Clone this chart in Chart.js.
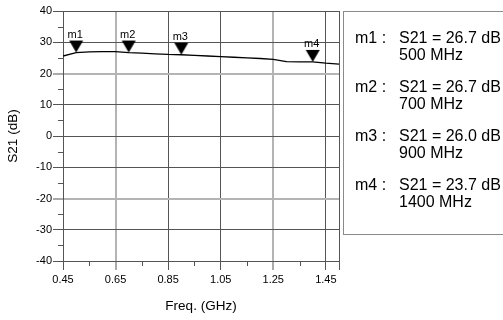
<!DOCTYPE html>
<html>
<head>
<meta charset="utf-8">
<script src="https://cdn.jsdelivr.net/npm/chart.js@4/dist/chart.umd.min.js"></script>
<style>
  html, body { margin: 0; padding: 0; background: #fff; }
  #wrap { position: relative; width: 503px; height: 320px; overflow: hidden; }
  #plot { position: absolute; left: 0; top: 0; }
  #markers {
    position: absolute; left: 343px; top: 11px; width: 200px; height: 222px;
    border: 1px solid #8a8a8a; border-right: none;
    font-family: "Liberation Sans", Arial, sans-serif; font-size: 16px; color: #000;
  }
  .entry { position: absolute; left: 11px; display: grid; grid-template-columns: 44px auto; line-height: 16.5px; white-space: nowrap; }
</style>
</head>
<body>
<div id="wrap">
  <canvas id="plot" width="503" height="320"></canvas>
  <div id="markers"></div>
</div>
<script>
// S21 sweep, GHz / dB
const freqs = [0.45, 0.50, 0.55, 0.60, 0.65, 0.70, 0.75, 0.80, 0.85, 0.90, 0.95,
               1.00, 1.05, 1.10, 1.15, 1.20, 1.25, 1.30, 1.35, 1.40, 1.45, 1.50];
const s21 = [25.6, 26.7, 26.9, 27.0, 27.0, 26.7, 26.5, 26.3, 26.1, 26.0, 25.8,
             25.6, 25.4, 25.2, 25.0, 24.8, 24.5, 23.8, 23.7, 23.7, 23.3, 23.0];

// markers
const markerNames = ['m1', 'm2', 'm3', 'm4'];
const markerFreqs = [0.5, 0.7, 0.9, 1.4];
const markerValues = [26.7, 26.7, 26.0, 23.7];

// axis ticks
const xMajor = [0.45, 0.65, 0.85, 1.05, 1.25, 1.45];
const xMinor = [0.55, 0.75, 0.95, 1.15, 1.35];
const yMajor = [-40, -30, -20, -10, 0, 10, 20, 30, 40];
const yMinor = [-35, -25, -15, -5, 5, 15, 25, 35];

const FONT = '"Liberation Sans", Arial, sans-serif';
const DARK = '#555';
const LIGHT = '#b4b4b4';
const lightX = [0.65, 1.25];
const lightY = [20, -20];

const near = (a, b) => Math.abs(a - b) < 1e-6;
const inList = (v, arr) => arr.some(a => near(a, v));

// downward triangle with its tip at the centre of the image
function triangle() {
  const c = document.createElement('canvas');
  c.width = 16; c.height = 26;
  const g = c.getContext('2d');
  g.fillStyle = '#000';
  g.beginPath();
  g.moveTo(1, 1); g.lineTo(15, 1); g.lineTo(8, 13); g.closePath();
  g.fill();
  return c;
}

const markerLabels = {
  id: 'markerLabels',
  afterDatasetsDraw(chart) {
    const ctx = chart.ctx;
    const meta = chart.getDatasetMeta(0);
    ctx.save();
    ctx.font = '11px ' + FONT;
    ctx.fillStyle = '#000';
    ctx.textAlign = 'center';
    ctx.textBaseline = 'bottom';
    meta.data.forEach((pt, i) => ctx.fillText(markerNames[i], pt.x - 1, pt.y - 12));
    ctx.restore();
  }
};

// short outside ticks between the labelled ones
const minorTicks = {
  id: 'minorTicks',
  afterDraw(chart) {
    const { ctx, chartArea, scales } = chart;
    ctx.save();
    ctx.strokeStyle = DARK;
    ctx.lineWidth = 1;
    ctx.beginPath();
    xMinor.forEach(v => {
      const x = Math.round(scales.x.getPixelForValue(v)) + 0.5;
      ctx.moveTo(x, chartArea.bottom);
      ctx.lineTo(x, chartArea.bottom + 5);
    });
    yMinor.forEach(v => {
      const y = Math.round(scales.y.getPixelForValue(v)) + 0.5;
      ctx.moveTo(chartArea.left - 5, y);
      ctx.lineTo(chartArea.left, y);
    });
    ctx.stroke();
    ctx.restore();
  }
};

function gridColor(v, lights, majors) {
  if (!inList(v, majors)) return 'rgba(0,0,0,0)';
  return inList(v, lights) ? LIGHT : DARK;
}

new Chart(document.getElementById('plot'), {
  type: 'scatter',
  data: {
    datasets: [{
      data: markerFreqs.map((f, i) => ({ x: f, y: markerValues[i] })),
      pointStyle: triangle(),
      pointRadius: 7,
      showLine: false
    }, {
      data: freqs.map((f, i) => ({ x: f, y: s21[i] })),
      showLine: true,
      borderColor: '#000',
      borderWidth: 1.3,
      pointRadius: 0,
      tension: 0
    }]
  },
  options: {
    responsive: false,
    animation: false,
    events: [],
    layout: { padding: { top: 11, right: 164, left: 0, bottom: 0 } },
    plugins: { legend: { display: false }, tooltip: { enabled: false } },
    scales: {
      x: {
        type: 'linear',
        min: 0.45,
        max: 1.5,
        afterBuildTicks: s => { s.ticks = xMajor.concat(xMinor, [1.5]).sort((a, b) => a - b).map(v => ({ value: v })); },
        afterFit: s => { s.height = 59; },
        border: { display: true, color: DARK, width: 1 },
        grid: {
          color: c => near(c.tick.value, 1.5) ? DARK : gridColor(c.tick.value, lightX, xMajor),
          lineWidth: c => inList(c.tick.value, lightX) ? 2 : 1,
          tickColor: c => (inList(c.tick.value, xMajor) || near(c.tick.value, 1.5)) ? DARK : 'rgba(0,0,0,0)',
          tickLength: 9,
          tickWidth: 1,
          drawTicks: true
        },
        ticks: {
          autoSkip: false,
          maxRotation: 0,
          padding: 3,
          color: '#000',
          font: { family: FONT, size: 11 },
          callback: v => inList(v, xMajor) ? v.toFixed(2) : ''
        },
        title: {
          display: true,
          text: 'Freq. (GHz)',
          color: '#000',
          font: { family: FONT, size: 13.5 },
          padding: { top: 0, bottom: 6 }
        }
      },
      y: {
        min: -40,
        max: 40,
        afterBuildTicks: s => { s.ticks = yMajor.concat(yMinor).sort((a, b) => a - b).map(v => ({ value: v })); },
        afterFit: s => { s.width = 63; },
        border: { display: true, color: DARK, width: 1 },
        grid: {
          color: c => gridColor(c.tick.value, lightY, yMajor),
          lineWidth: c => inList(c.tick.value, lightY) ? 2 : 1,
          tickColor: c => inList(c.tick.value, yMajor) ? DARK : 'rgba(0,0,0,0)',
          tickLength: 10,
          tickWidth: 1,
          drawTicks: true
        },
        ticks: {
          autoSkip: false,
          padding: 1,
          color: '#000',
          font: { family: FONT, size: 11 },
          callback: v => inList(v, yMajor) ? String(v) : ''
        },
        title: {
          display: true,
          text: 'S21 (dB)',
          color: '#000',
          font: { family: FONT, size: 13.5 },
          padding: { top: 5, bottom: 0 }
        }
      }
    }
  },
  plugins: [markerLabels, minorTicks]
});

// marker readout box
const box = document.getElementById('markers');
markerNames.forEach((name, i) => {
  const row = document.createElement('div');
  row.className = 'entry';
  row.style.top = (18 + i * 49) + 'px';
  row.innerHTML = '<span>' + name + ' :</span><span>S21 = ' + markerValues[i].toFixed(1) +
    ' dB<br>' + Math.round(markerFreqs[i] * 1000) + ' MHz</span>';
  box.appendChild(row);
});
</script>
</body>
</html>
